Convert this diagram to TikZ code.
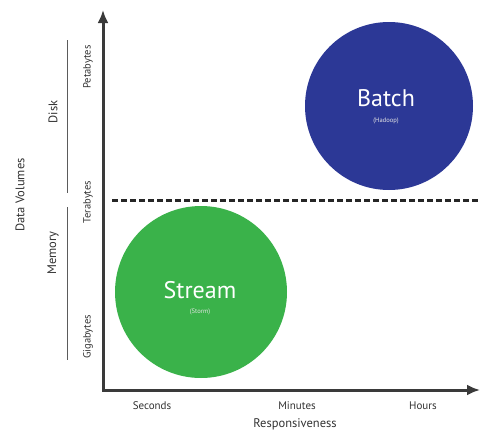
\documentclass[tikz,border=0pt]{standalone}
\usepackage{fontspec}
\setmainfont{PT Sans}
\usetikzlibrary{arrows.meta}
\definecolor{batchblue}{RGB}{44,56,150}
\definecolor{streamgreen}{RGB}{58,178,74}
\definecolor{axisgray}{RGB}{58,58,58}
\definecolor{txtgray}{RGB}{50,50,50}
\tikzset{
  axisline/.style={line width=3pt, draw=axisgray, {Latex[length=13pt,width=11pt]}-{Latex[length=13pt,width=11pt]}},
  bubble/.style={circle, inner sep=0pt, draw=none},
  bigtxt/.style={text=white, font=\fontsize{24}{24}\selectfont, inner sep=0pt},
  smalltxt/.style={text=white!90!black, font=\fontsize{6.5}{7}\selectfont, inner sep=0pt},
  ticklbl/.style={text=txtgray, font=\fontsize{11}{12}\selectfont, inner sep=0pt},
  axislbl/.style={text=txtgray, font=\fontsize{12.5}{13}\selectfont, inner sep=0pt},
  sidelbl/.style={text=txtgray, font=\fontsize{12.5}{13}\selectfont, inner sep=0pt, rotate=90},
  vticklbl/.style={text=txtgray, font=\fontsize{10.5}{11}\selectfont, inner sep=0pt, rotate=90},
  divider/.style={line width=0.8pt, draw=txtgray!80},
  threshold/.style={line width=3pt, draw=black!85, dash pattern=on 6pt off 3pt}
}
\begin{document}
\begin{tikzpicture}[x=1pt,y=-1pt]
\useasboundingbox (0,0) rectangle (480,434);
% bubbles
\node[bubble, fill=batchblue, minimum size=168pt] (batch) at (389,106) {};
\node[bigtxt] (batchtxt) at (386,98) {Batch};
\node[smalltxt] (hadoop) at (386,121) {(Hadoop)};
\node[bubble, fill=streamgreen, minimum size=172pt] (stream) at (201,292) {};
\node[bigtxt] (streamtxt) at (200,290) {Stream};
\node[smalltxt] (storm) at (200,312) {(Storm)};
% dashed threshold
\coordinate (dashL) at (112,200);
\coordinate (dashR) at (478,200);
\draw[threshold] (dashL) -- (dashR);
% axes
\coordinate (origin) at (103,390);
\coordinate (ytip) at (103,10);
\coordinate (xtip) at (480,390);
\draw[axisline] (ytip) -- (origin) -- (xtip);
% x labels
\node[ticklbl] (sec) at (152,406) {Seconds};
\node[ticklbl] (min) at (297,406) {Minutes};
\node[ticklbl] (hrs) at (423,406) {Hours};
\node[axislbl] (resp) at (295,424) {Responsiveness};
% y tick labels
\node[vticklbl] (peta) at (88,67) {Petabytes};
\node[vticklbl] (tera) at (88,202) {Terabytes};
\node[vticklbl] (giga) at (88,337) {Gigabytes};
% storage labels
\node[sidelbl] (disk) at (53,112) {Disk};
\node[sidelbl] (mem) at (53,253) {Memory};
\node[sidelbl] (dv) at (20,195) {Data Volumes};
% dividers
\coordinate (d1a) at (67,40);
\coordinate (d1b) at (67,193);
\coordinate (d2a) at (67,207);
\coordinate (d2b) at (67,360);
\draw[divider] (d1a) -- (d1b);
\draw[divider] (d2a) -- (d2b);
\end{tikzpicture}
\end{document}
